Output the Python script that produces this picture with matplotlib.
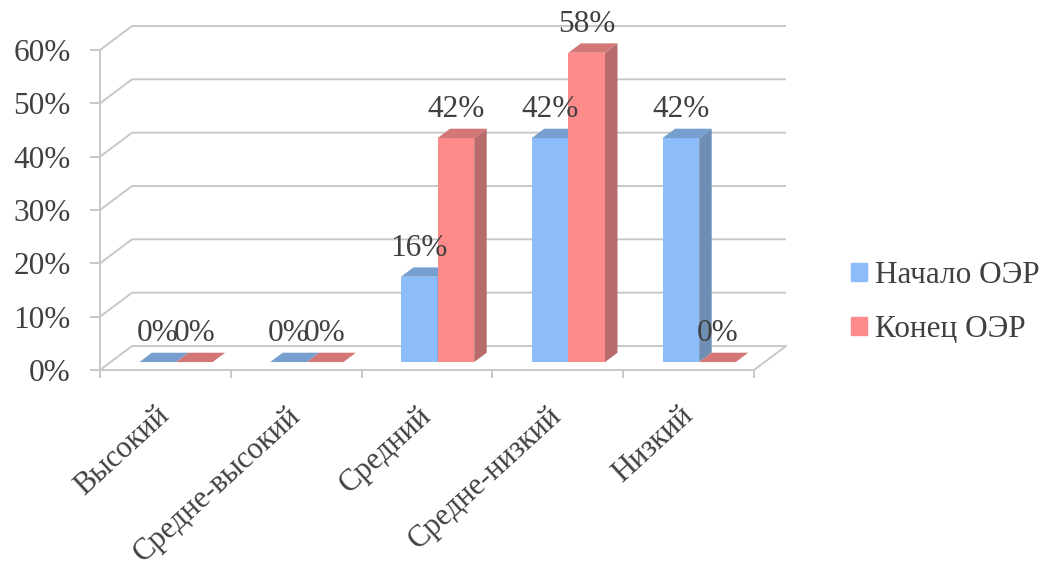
import matplotlib
matplotlib.use("Agg")
import matplotlib.pyplot as plt
from matplotlib.patches import Polygon, Patch

plt.rcParams['font.family'] = ['Liberation Serif', 'DejaVu Serif']

# данные
categories = ['Высокий', 'Средне-высокий', 'Средний', 'Средне-низкий', 'Низкий']
nachalo = [0, 0, 16, 42, 42]
konec = [0, 0, 42, 58, 0]
series_names = ['Начало ОЭР', 'Конец ОЭР']
y_ticks = [0, 10, 20, 30, 40, 50, 60]

# цвета: лицевая грань, верх, бок
colors = {
    'blue': ('#8cbcfa', '#769fd0', '#6e8eb4'),
    'red': ('#ff8a8a', '#d27676', '#b86b6b'),
}
grid_col = '#c8c8c8'
text_col = '#404040'
FS = 22.5

# глубина "3D" в единицах данных
DX, DY = 0.245, 0.045
T0, T1 = 0.33, 0.72
BW = 0.28


def off(t):
    return DX * t, DY * t


fig = plt.figure(figsize=(10.44, 5.73), dpi=100)
ax = fig.add_axes([100 / 1044, (573 - 370) / 573, 654 / 1044, 320 / 573])
ax.set_xlim(0, len(categories))
ax.set_ylim(0, 0.6)
ax.patch.set_visible(False)

# стенки и пол
n = len(categories)
for t in y_ticks:
    v = t / 100
    ax.plot([0, DX, n + DX], [v, v + DY, v + DY], color=grid_col, lw=1.4,
            clip_on=False, zorder=0, solid_capstyle='butt')
ax.plot([n, n + DX], [0, DY], color=grid_col, lw=1.4, clip_on=False, zorder=0)

for s in ['top', 'right']:
    ax.spines[s].set_visible(False)
for s in ['left', 'bottom']:
    ax.spines[s].set_color(grid_col)
    ax.spines[s].set_linewidth(1.4)

ax.set_yticks([t / 100 for t in y_ticks])
ax.set_yticklabels([f'{t}%' for t in y_ticks])
ax.tick_params(axis='y', length=7.2, width=1.4, color=grid_col, pad=14,
               labelsize=FS, labelcolor=text_col)
ax.set_xticks(range(n + 1))
ax.set_xticklabels([''] * (n + 1))
ax.tick_params(axis='x', which='major', length=6, width=1.4, color=grid_col)
ax.set_xticks([i + 0.5 for i in range(n)], minor=True)
ax.set_xticklabels(categories, minor=True, rotation=42.5, ha='right',
                   va='center', rotation_mode='anchor')
ax.tick_params(axis='x', which='minor', length=0, pad=30, labelsize=22,
               labelcolor=text_col)


def bar3d(x0, x1, v, cols, z):
    fx, fy = off(T0)
    bx, by = off(T1)
    front, top, side = cols
    if v > 0:
        ax.add_patch(Polygon([(x0 + fx, fy), (x1 + fx, fy), (x1 + fx, v + fy), (x0 + fx, v + fy)],
                             closed=True, fc=front, lw=0, clip_on=False, zorder=z))
        ax.add_patch(Polygon([(x1 + fx, fy), (x1 + bx, by), (x1 + bx, v + by), (x1 + fx, v + fy)],
                             closed=True, fc=side, lw=0, clip_on=False, zorder=z))
    ax.add_patch(Polygon([(x0 + fx, v + fy), (x1 + fx, v + fy), (x1 + bx, v + by), (x0 + bx, v + by)],
                         closed=True, fc=top, lw=0, clip_on=False, zorder=z))
    ax.annotate(f'{v * 100:.0f}%', xy=((x0 + x1) / 2 + fx, v + fy), xytext=(0, 15),
                textcoords='offset points', ha='center', va='baseline',
                fontsize=FS, color=text_col, zorder=10, annotation_clip=False)


for i in range(n):
    c = i + 0.5
    bar3d(c - BW, c, nachalo[i] / 100, colors['blue'], 2 + 2 * i)
    bar3d(c, c + BW, konec[i] / 100, colors['red'], 3 + 2 * i)

handles = [Patch(color=colors['blue'][0]), Patch(color=colors['red'][0])]
fig.legend(handles, series_names, loc='center left',
           bbox_to_anchor=(823 / 1044, 1 - 303 / 573), frameon=False,
           handlelength=0.5, handleheight=0.5, handletextpad=0.25,
           labelspacing=0.8, fontsize=FS, labelcolor=text_col)

fig.savefig('out.png', dpi=100)
